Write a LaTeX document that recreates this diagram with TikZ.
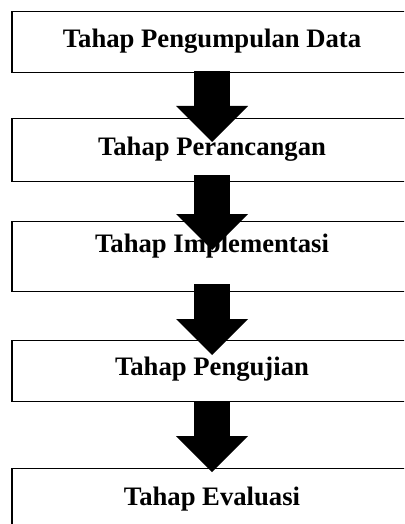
\documentclass[tikz,border=0pt]{standalone}
\usepackage{fontspec}
\setmainfont{Liberation Serif}
\usetikzlibrary{arrows.meta}

\tikzset{
  tahap/.style={rectangle, draw, line width=1.1pt, minimum width=300pt, inner xsep=0pt, inner ysep=0pt, anchor=north, font=\fontsize{20}{24}\selectfont\bfseries},
  panah/.style={line width=27pt, -{Triangle[width=54pt, length=27pt, line width=0pt]}}
}

\begin{document}
\begin{tikzpicture}[x=0.75pt, y=-0.75pt]
    \useasboundingbox (0,0) rectangle (404,524);
    \clip (0,0) rectangle (404,524);
    \node[tahap, text height=27pt, text depth=18.75pt] (kumpul) at (212,11) {Tahap Pengumpulan Data};
    \node[tahap, text height=27.75pt, text depth=19.5pt] (rancang) at (212,118) {Tahap Perancangan};
    \node[tahap, text height=23.25pt, text depth=29.25pt] (implementasi) at (212,221) {Tahap Implementasi};
    \node[tahap, text height=26.25pt, text depth=19.5pt] (uji) at (212,340) {Tahap Pengujian};
    \node[tahap, text height=27.75pt, text depth=22.5pt] (evaluasi) at (212,468) {Tahap Evaluasi};
    \draw[panah, shorten <=-1.5pt, shorten >=-18pt] (kumpul.south) -- (rancang.north);
    \draw[panah, shorten <=-5.25pt, shorten >=-21.75pt] (rancang.south) -- (implementasi.north);
    \draw[panah, shorten <=-6pt, shorten >=-11.25pt] (implementasi.south) -- (uji.north);
    \draw[panah, shorten <=-0.75pt, shorten >=-3pt] (uji.south) -- (evaluasi.north);
\end{tikzpicture}
\end{document}
